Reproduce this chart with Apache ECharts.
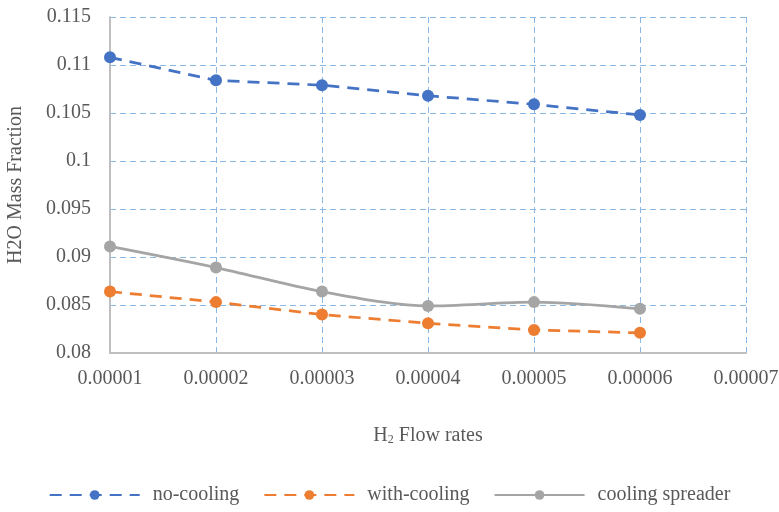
<!DOCTYPE html>
<html><head><meta charset="utf-8">
<script src="https://cdn.jsdelivr.net/npm/echarts@6/dist/echarts.min.js"></script>
<style>html,body{margin:0;padding:0;background:#fff}#c{width:779px;height:512px}</style>
</head><body><div id="c"></div>
<script>
const xValues = [0.00001, 0.00002, 0.00003, 0.00004, 0.00005, 0.00006];
const noCooling = [0.1108, 0.1084, 0.1079, 0.1068, 0.1059, 0.1048];
const withCooling = [0.0864, 0.0853, 0.0840, 0.0831, 0.0824, 0.0821];
const coolingSpreader = [0.0911, 0.0889, 0.0864, 0.0849, 0.0853, 0.0846];
const seriesNames = ['no-cooling', 'with-cooling', 'cooling spreader'];
const xTickLabels = ['0.00001','0.00002','0.00003','0.00004','0.00005','0.00006','0.00007'];

const font = 'Liberation Serif, Times New Roman, serif';
const txt = '#595959';
const gridBlue = '#8ab8e6';
const pair = arr => xValues.map((x, i) => [x, arr[i]]);

const chart = echarts.init(document.getElementById('c'));
chart.setOption({
  animation: false,
  grid: { left: 110, right: 33, top: 17, bottom: 159, containLabel: false, outerBoundsMode: 'none' },
  xAxis: {
    type: 'value', min: 0.00001, max: 0.00007, interval: 0.00001,
    name: '{a|H}{s|2}{a| Flow rates}', nameLocation: 'middle', nameGap: 72,
    nameTextStyle: { rich: { a: { fontFamily: font, fontSize: 20, color: txt }, s: { fontFamily: font, fontSize: 12, color: txt, verticalAlign: 'bottom', padding: [9,0,0,0] } } },
    axisLine: { show: true, lineStyle: { color: '#bfbfbf', width: 2 } },
    axisTick: { show: false },
    axisLabel: { fontFamily: font, fontSize: 20, color: txt, margin: 16,
      formatter: v => { const i = Math.round(v / 0.00001) - 1; return xTickLabels[i] || ''; } },
    splitLine: { show: true, lineStyle: { color: gridBlue, type: [6, 4], width: 1 } }
  },
  yAxis: {
    type: 'value', min: 0.08, max: 0.115, interval: 0.005,
    name: 'H2O Mass Fraction', nameLocation: 'middle', nameGap: 84,
    nameTextStyle: { fontFamily: font, fontSize: 20, color: txt },
    axisLine: { show: true, lineStyle: { color: '#bfbfbf', width: 2 } },
    axisTick: { show: false },
    axisLabel: { fontFamily: font, fontSize: 20, color: txt, margin: 19,
      formatter: v => String(parseFloat(v.toFixed(3))) },
    splitLine: { show: true, lineStyle: { color: gridBlue, type: [6, 4], width: 1 } }
  },
  legend: {
    bottom: 2, left: 'center', itemWidth: 90, itemHeight: 12, itemGap: 24,
    textStyle: { fontFamily: font, fontSize: 20, color: txt, padding: [0, 0, 0, 8] },
    data: seriesNames
  },
  series: [
    { name: seriesNames[0], type: 'line', data: pair(noCooling), symbol: 'circle', symbolSize: 12,
      itemStyle: { color: '#4472c4' }, lineStyle: { color: '#4472c4', width: 2.75, type: [12, 8] } },
    { name: seriesNames[1], type: 'line', data: pair(withCooling), symbol: 'circle', symbolSize: 12,
      itemStyle: { color: '#ed7d31' }, lineStyle: { color: '#ed7d31', width: 2.75, type: [12, 8] } },
    { name: seriesNames[2], type: 'line', data: pair(coolingSpreader), symbol: 'circle', symbolSize: 12, smooth: 0.3,
      itemStyle: { color: '#a5a5a5' }, lineStyle: { color: '#a5a5a5', width: 2.75 } }
  ]
});
</script></body></html>
